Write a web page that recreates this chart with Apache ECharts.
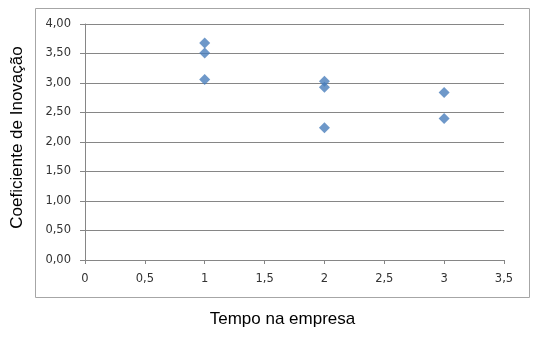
<!DOCTYPE html>
<html><head><meta charset="utf-8">
<script src="https://cdn.jsdelivr.net/npm/echarts@6/dist/echarts.min.js"></script>
<style>html,body{margin:0;padding:0;background:#fff}#c{width:545px;height:338px}</style>
</head><body><div id="c"></div>
<script>
var xValues = [1, 1, 1, 2, 2, 2, 3, 3];
var yValues = [3.68, 3.51, 3.06, 3.03, 2.93, 2.24, 2.84, 2.40];
var xTitle = 'Tempo na empresa';
var yTitle = 'Coeficiente de Inovação';

var pts = xValues.map(function(x, i){ return [x, yValues[i]]; });
var chart = echarts.init(document.getElementById('c'));
var labelFont = {fontFamily: 'DejaVu Sans', fontSize: 11.5, color: '#333'};
chart.setOption({
  animation: false,
  graphic: [{
    type: 'rect', shape: {x: 35.5, y: 8.5, width: 494, height: 289},
    style: {fill: 'none', stroke: '#a6a6a6', lineWidth: 1}, z: -1
  }],
  grid: {left: 85, right: 41, top: 24, bottom: 78, containLabel: false, outerBoundsMode: 'none'},
  xAxis: {
    type: 'value', min: 0, max: 3.5, interval: 0.5,
    name: xTitle, nameLocation: 'middle', nameGap: 51,
    nameTextStyle: {fontFamily: 'Liberation Sans', fontSize: 17, color: '#000', padding: [0, 24, 0, 0]},
    axisLine: {show: true, lineStyle: {color: '#868686'}},
    axisTick: {show: true, length: 4, lineStyle: {color: '#868686'}},
    splitLine: {show: false},
    axisLabel: Object.assign({margin: 13, formatter: function(v){ return String(v).replace('.', ','); }}, labelFont)
  },
  yAxis: {
    type: 'value', min: 0, max: 4, interval: 0.5,
    name: yTitle, nameLocation: 'middle', nameGap: 59, nameRotate: 90,
    nameTextStyle: {fontFamily: 'Liberation Sans', fontSize: 17, color: '#000', padding: [0, 0, 0, 9]},
    axisLine: {show: true, lineStyle: {color: '#868686'}},
    axisTick: {show: true, length: 5, lineStyle: {color: '#868686'}},
    splitLine: {show: true, lineStyle: {color: '#868686'}},
    axisLabel: Object.assign({margin: 14, formatter: function(v){ return v.toFixed(2).replace('.', ','); }}, labelFont)
  },
  series: [{
    type: 'scatter', data: pts, symbol: 'diamond', symbolSize: 11,
    itemStyle: {color: '#4a7ebb'}
  }]
});
</script></body></html>
